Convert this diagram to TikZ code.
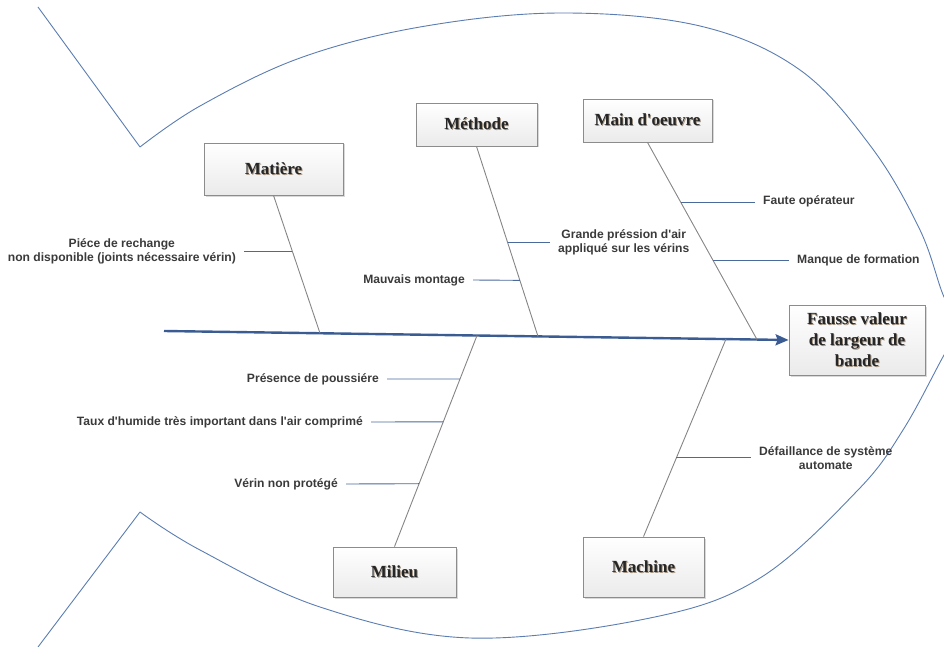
\documentclass[tikz,border=0pt]{standalone}
\usepackage{fontspec}
\setmainfont{Liberation Serif}
\newfontfamily\labfont{Liberation Sans}
\usetikzlibrary{arrows.meta,shadows,calc}

\definecolor{fishblue}{HTML}{5B7DB1}
\definecolor{subblue}{HTML}{4A6A9C}
\definecolor{bonegray}{HTML}{858585}
\definecolor{spineblue}{HTML}{3B5C92}
\definecolor{boxborder}{HTML}{8C8C8C}
\definecolor{labtext}{HTML}{3A3A3A}
\definecolor{boxtext}{HTML}{262626}
\definecolor{txtshadow}{HTML}{A39482}

% bold heading with a soft offset shadow behind the letters
\newcommand\shadowed[1]{\leavevmode\rlap{\kern0.9pt\raisebox{-0.9pt}{\textcolor{txtshadow}{#1}}}#1}

\begin{document}
\begin{tikzpicture}[x=1pt,y=-1pt,
  catbox/.style={draw=boxborder, line width=0.8pt, top color=white, bottom color=black!8,
    drop shadow={shadow xshift=1.5pt, shadow yshift=-1.5pt, opacity=0.3},
    text=boxtext, font=\fontsize{17}{21}\selectfont\bfseries, align=center, inner sep=0pt},
  cause/.style={text=labtext, font=\labfont\fontsize{12.1}{14}\selectfont\bfseries,
    align=center, inner xsep=8pt, inner ysep=2pt},
  fishline/.style={draw=fishblue, line width=0.9pt},
  bone/.style={draw=bonegray, line width=0.9pt},
  subbone/.style={draw=subblue, line width=0.9pt},
  spine/.style={draw=spineblue, line width=2.4pt, -{Stealth[length=13pt,width=11pt,inset=2pt]}}
]
\useasboundingbox (0,0) rectangle (944,647);
\clip (0,0) rectangle (944,647);

% fish outline: tail and body
\draw[fishline] (38,7) -- (140,147);
\draw[fishline] (38,647) -- (140,512);
\draw[fishline] plot[smooth, tension=0.6] coordinates
  {(140,147) (200,106) (300,58) (420,27) (560,13) (700,26) (800,70) (872,148) (920,230) (944,297) (962,325)};
\draw[fishline] plot[smooth, tension=0.6] coordinates
  {(962,325) (944,355) (903,430) (858,490) (760,578) (650,618) (470,638) (320,607) (200,550) (140,512)};

% category boxes and the effect
\node[catbox, minimum width=139pt, minimum height=52pt] (mat) at (273.5,169) {\shadowed{Matière}};
\node[catbox, minimum width=121pt, minimum height=43pt] (met) at (476.5,124.5) {\shadowed{Méthode}};
\node[catbox, minimum width=129pt, minimum height=43pt] (mo) at (647.5,120.5) {\shadowed{Main d\textquotesingle oeuvre}};
\node[catbox, minimum width=136pt, minimum height=70pt] (eff) at (857,340)
  {\shadowed{Fausse valeur}\\\shadowed{de largeur de}\\\shadowed{bande}};
\node[catbox, minimum width=123pt, minimum height=50pt] (mil) at (394.5,572) {\shadowed{Milieu}};
\node[catbox, minimum width=121pt, minimum height=60pt] (mac) at (643.5,567) {\shadowed{Machine}};

% main spine
\coordinate (tail) at (164,331);
\draw[spine] (tail) -- (eff.west);

% points where the bones meet the spine
\coordinate (s1) at (320,333.2);
\coordinate (s2) at (538,336.4);
\coordinate (s3) at (757,339.5);
\coordinate (s4) at (477,335.5);
\coordinate (s5) at (726,339);

% bones, with the points where the causes attach
\draw[bone] (mat.south) -- coordinate[pos=0.406] (b11) (s1);
\draw[bone] (met.south) -- coordinate[pos=0.505] (b21) coordinate[pos=0.705] (b22) (s2);
\draw[bone] (mo.south) -- coordinate[pos=0.304] (b31) coordinate[pos=0.598] (b32) (s3);
\draw[bone] (mil.north) -- coordinate[pos=0.794] (b41) coordinate[pos=0.591] (b42) coordinate[pos=0.298] (b43) (s4);
\draw[bone] (mac.north) -- coordinate[pos=0.399] (b51) (s5);

% causes
\node[cause, anchor=east] (c11) at (244,251) {Piéce de rechange\\non disponible (joints nécessaire vérin)};
\node[cause, anchor=east] (c22) at (473,280) {Mauvais montage};
\node[cause, anchor=west] (c21) at (550,242) {Grande préssion d\textquotesingle air\\appliqué sur les vérins};
\node[cause, anchor=west] (c31) at (755,201) {Faute opérateur};
\node[cause, anchor=west] (c32) at (789,260) {Manque de formation};
\node[cause, anchor=east] (c41) at (387,379) {Présence de poussiére};
\node[cause, anchor=east] (c42) at (371,422) {Taux d\textquotesingle humide très important dans l\textquotesingle air comprimé};
\node[cause, anchor=east] (c43) at (346,484) {Vérin non protégé};
\node[cause, anchor=west] (c51) at (751,458) {Défaillance de système\\automate};

\draw[subbone] (c11.east) -- (b11 -| c11.east) -- (b11);
\draw[subbone] (b21) -- (b21 -| c21.west);
\draw[subbone] (c22.east) -- (b22);
\draw[subbone] (b31) -- (b31 -| c31.west);
\draw[subbone] (b32) -- (b32 -| c32.west);
\draw[subbone] (c41.east) -- (b41);
\draw[subbone] (c42.east) -- (b42);
\draw[subbone] (c43.east) -- (b43);
\draw[subbone] (b51) -- (b51 -| c51.west);
\end{tikzpicture}
\end{document}
